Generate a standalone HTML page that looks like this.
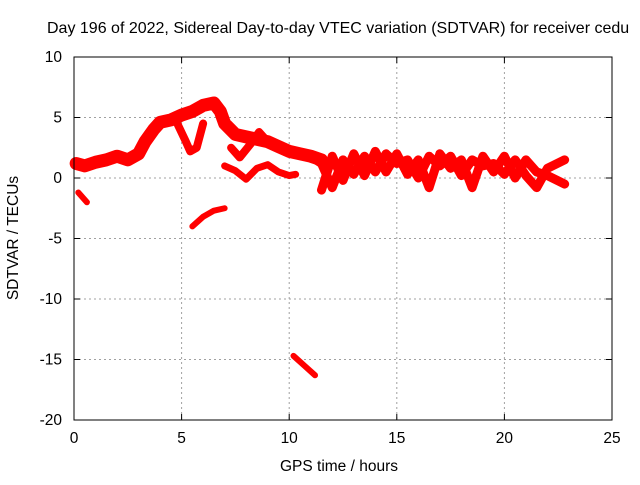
<!DOCTYPE html>
<html><head><meta charset="utf-8"><style>
body{margin:0;background:#fff}
svg text{font-family:"Liberation Sans",sans-serif;font-size:15.5px;fill:#000}
</style></head><body>
<svg width="640" height="480" xmlns="http://www.w3.org/2000/svg">
<rect width="640" height="480" fill="#fff"/>
<text x="47" y="33" style="font-size:16px">Day 196 of 2022, Sidereal Day-to-day VTEC variation (SDTVAR) for receiver cedu</text>
<g id="grid"></g>
<g id="ticks"></g>
<g id="series"></g>
<rect x="74" y="57" width="538" height="363" fill="none" stroke="#000" stroke-width="1"/>
<text x="339" y="471" text-anchor="middle">GPS time / hours</text>
<text x="18" y="238" text-anchor="middle" transform="rotate(-90 18 238)">SDTVAR / TECUs</text>
</svg>
<script>
const xTicks=[0,5,10,15,20,25];
const yTicks=[10,5,0,-5,-10,-15,-20];
const trackMain=[[0.1,1.2],[0.5,1.0],[1,1.3],[1.5,1.5],[2,1.8],[2.5,1.5],[3,2.0],[3.3,3],[3.7,4],[4,4.6],[4.5,4.8],[5,5.2],[5.5,5.5],[6,6],[6.5,6.2],[6.8,5.5],[7,4.5],[7.5,3.6],[8,3.4],[8.5,3.2],[9,3],[9.5,2.6],[10,2.2],[10.5,2.0],[11,1.8],[11.5,1.5]];
const trackDip=[[4.8,4.5],[5.2,3],[5.4,2.2],[5.7,2.5],[6,4.5]];
const trackBranch=[[7.3,2.5],[7.7,1.7],[8.2,2.8],[8.6,3.8],[9,3]];
const trackLow=[[7,1.0],[7.5,0.6],[8,-0.1],[8.5,0.8],[9,1.1],[9.5,0.5],[10,0.2],[10.3,0.3]];
const segA=[[0.2,-1.2],[0.6,-2.0]];
const segB=[[5.5,-4.0],[6,-3.2],[6.5,-2.7],[7,-2.5]];
const segC=[[10.2,-14.7],[10.7,-15.5],[11.2,-16.3]];
const trackR1=[[11,1.8],[11.5,1.2],[12,-0.8],[12.5,1.5],[13,0.3],[13.5,1.8],[14,0.5],[14.5,2],[15,1.2],[15.5,1.5],[16,0],[16.5,1.8],[17,1.0],[17.5,1.8],[18,0.2],[18.5,1.5],[19,1.0],[19.5,1.2],[20,0.3],[20.5,1.5],[21,0.2],[21.5,-0.8],[22,0.8],[22.8,1.5]];
const trackR2=[[11.5,-1],[12,1.8],[12.5,-0.2],[13,2],[13.5,0.2],[14,2.2],[14.5,0.5],[15,2],[15.5,0.3],[16,1.5],[16.5,-0.8],[17,2],[17.5,0.8],[18,1.5],[18.5,-0.8],[19,1.8],[19.5,0.5],[20,1.8],[20.5,0],[21,1.5],[21.5,0.5],[22,0.2],[22.8,-0.5]];
const tracks=[trackMain,trackDip,trackBranch,trackLow,segA,segB,segC,trackR1,trackR2];
const widths=[13,8,8,7,6,6,6,9,9];
const X=t=>74+t*21.52, Y=v=>178-v*12.1;
const NS="http://www.w3.org/2000/svg";
const g=document.getElementById('grid'),tk=document.getElementById('ticks'),s=document.getElementById('series');
function mk(tag,a,p){const e=document.createElementNS(NS,tag);for(const k in a)e.setAttribute(k,a[k]);p.appendChild(e);return e;}
xTicks.forEach(t=>{const x=X(t);
 if(t>0&&t<25){const l=mk('line',{x1:x,y1:57,x2:x,y2:420,stroke:'#a0a0a0','stroke-dasharray':'2,3'},g);
 
 }
 mk('line',{x1:x,y1:420,x2:x,y2:414,stroke:'#000'},tk);mk('line',{x1:x,y1:57,x2:x,y2:63,stroke:'#000'},tk);
 const tx=mk('text',{x:x,y:443,'text-anchor':'middle'},tk);tx.textContent=t;
 
 });
yTicks.forEach(v=>{const y=Y(v);
 if(v<10&&v>-20){const l=mk('line',{x1:74,y1:y,x2:612,y2:y,stroke:'#a0a0a0','stroke-dasharray':'2,3'},g);
 
 }
 mk('line',{x1:74,y1:y,x2:80,y2:y,stroke:'#000'},tk);mk('line',{x1:612,y1:y,x2:606,y2:y,stroke:'#000'},tk);
 const tx=mk('text',{x:62,y:y+5,'text-anchor':'end'},tk);tx.textContent=v;
 
 });
tracks.forEach((tr,i)=>{
 const p=mk('polyline',{points:tr.map(d=>X(d[0])+','+Y(d[1])).join(' '),fill:'none',stroke:'#ff0000','stroke-width':widths[i],'stroke-linejoin':'round','stroke-linecap':'round'},s);
 
 
});
</script>
</body></html>
